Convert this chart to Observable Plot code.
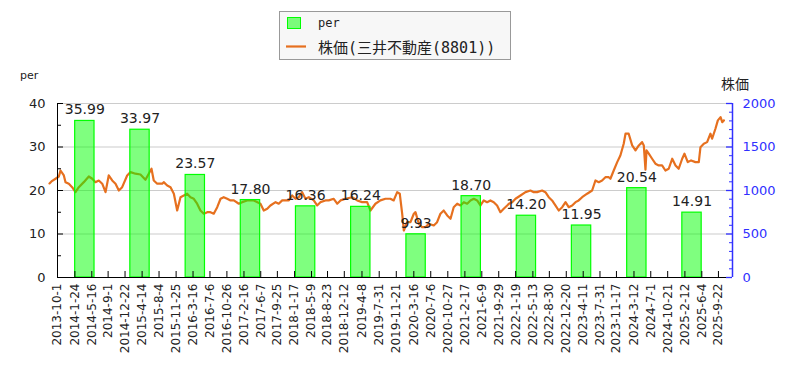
<!DOCTYPE html>
<html><head><meta charset="utf-8">
<script src="https://cdn.jsdelivr.net/npm/d3@7"></script>
<script src="https://cdn.jsdelivr.net/npm/@observablehq/plot@0.6"></script>
<style>
body{margin:0;background:#fff;}
#wrap{position:relative;width:793px;height:372px;overflow:hidden;}
#wrap svg{position:absolute;left:0;top:0;}
</style></head><body>
<div id="wrap"></div>
<script>
// ---- data ----
const tickLabels = ["2013-10-1","2014-1-24","2014-5-16","2014-9-1","2014-12-22","2015-4-14","2015-8-4","2015-11-25","2016-3-16","2016-7-6","2016-10-26","2017-2-16","2017-6-7","2017-9-25","2018-1-17","2018-5-9","2018-8-23","2018-12-12","2019-4-8","2019-7-31","2019-11-21","2020-3-16","2020-7-6","2020-10-27","2021-2-17","2021-6-9","2021-9-29","2022-1-19","2022-5-13","2022-8-30","2022-12-20","2023-4-11","2023-7-31","2023-11-17","2024-3-12","2024-7-1","2024-10-21","2025-2-12","2025-6-4","2025-9-22"];
const xDomain = ["2013-10-1","2025-12-24"];
const perDates = ["2014-3-31","2015-3-31","2016-3-31","2017-3-31","2018-3-31","2019-3-31","2020-3-31","2021-3-31","2022-3-31","2023-3-31","2024-3-31","2025-3-31"];
const perValues = [35.99,33.97,23.57,17.80,16.36,16.24,9.93,18.70,14.20,11.95,20.54,14.91];
const perTicks = [0,10,20,30,40];
const priceTicks = [0,500,1000,1500,2000];
const priceDates = ["2013-8-9","2013-8-22","2013-9-18","2013-10-10","2013-10-21","2013-11-12","2013-11-23","2013-12-15","2014-1-6","2014-1-28","2014-2-19","2014-3-24","2014-4-26","2014-5-19","2014-6-9","2014-7-1","2014-7-24","2014-8-15","2014-9-5","2014-9-28","2014-10-20","2014-11-11","2014-12-3","2015-1-5","2015-1-27","2015-3-1","2015-4-3","2015-5-6","2015-5-28","2015-6-15","2015-6-30","2015-7-23","2015-8-25","2015-9-4","2015-9-27","2015-10-19","2015-11-10","2015-12-2","2015-12-24","2016-1-15","2016-2-6","2016-2-28","2016-3-21","2016-4-12","2016-5-4","2016-5-26","2016-6-18","2016-7-9","2016-7-31","2016-8-23","2016-9-14","2016-10-5","2016-10-28","2016-11-19","2016-12-11","2017-1-13","2017-2-4","2017-3-9","2017-4-22","2017-6-5","2017-6-27","2017-7-20","2017-8-10","2017-9-13","2017-10-4","2017-10-27","2017-12-10","2018-1-1","2018-1-23","2018-2-14","2018-3-8","2018-3-30","2018-4-21","2018-5-24","2018-6-15","2018-7-7","2018-8-9","2018-8-31","2018-10-3","2018-10-26","2018-11-17","2018-12-20","2019-2-2","2019-3-7","2019-4-9","2019-5-12","2019-6-3","2019-7-6","2019-8-8","2019-9-10","2019-10-13","2019-11-4","2019-11-27","2019-12-14","2019-12-30","2020-1-10","2020-2-1","2020-2-23","2020-3-16","2020-3-27","2020-4-18","2020-5-10","2020-6-1","2020-6-23","2020-7-26","2020-8-17","2020-9-8","2020-9-30","2020-10-23","2020-11-14","2020-12-5","2020-12-28","2021-1-19","2021-2-10","2021-3-4","2021-3-26","2021-4-17","2021-5-9","2021-5-31","2021-6-22","2021-7-14","2021-8-5","2021-8-27","2021-9-18","2021-10-10","2021-11-1","2021-11-24","2021-12-5","2021-12-27","2022-1-18","2022-2-20","2022-3-25","2022-4-27","2022-5-19","2022-6-10","2022-7-13","2022-8-4","2022-8-26","2022-9-17","2022-10-9","2022-10-31","2022-11-23","2022-12-15","2023-1-5","2023-1-28","2023-2-19","2023-3-12","2023-4-4","2023-5-7","2023-6-9","2023-7-1","2023-7-23","2023-8-14","2023-9-5","2023-9-27","2023-10-8","2023-10-30","2023-11-22","2023-12-13","2024-1-4","2024-1-16","2024-2-6","2024-2-29","2024-3-22","2024-4-13","2024-5-5","2024-5-16","2024-5-27","2024-6-3","2024-6-18","2024-7-10","2024-8-1","2024-8-23","2024-9-14","2024-10-6","2024-10-28","2024-11-20","2024-12-12","2025-1-2","2025-1-25","2025-2-9","2025-3-3","2025-3-25","2025-4-23","2025-5-15","2025-5-26","2025-6-17","2025-7-9","2025-7-31","2025-8-11","2025-9-2","2025-9-18","2025-10-6","2025-10-17","2025-10-28"];
const priceValues = [1081,1104,1135,1161,1230,1173,1096,1078,1038,981,1038,1096,1161,1135,1096,1115,1078,981,1173,1115,1078,1000,1038,1173,1211,1193,1184,1124,1193,1250,1115,1078,1078,1096,1058,1038,963,770,923,943,963,923,905,848,770,733,751,751,733,808,905,923,905,886,886,848,866,886,886,848,770,790,828,866,848,886,886,943,905,923,981,905,923,886,828,866,886,886,905,848,886,905,923,886,866,866,770,848,886,905,905,886,981,963,733,540,636,636,733,751,618,578,578,618,598,636,733,770,713,675,808,848,828,866,848,886,905,886,828,886,866,886,866,828,751,790,828,848,866,905,943,981,1000,981,981,1000,981,923,886,828,770,808,866,808,828,866,886,923,963,1000,1115,1096,1115,1153,1153,1135,1230,1326,1403,1538,1653,1653,1518,1461,1518,1556,1518,1240,1461,1423,1365,1308,1288,1288,1230,1250,1365,1288,1250,1365,1423,1326,1346,1326,1326,1498,1538,1556,1653,1595,1710,1806,1843,1786,1806];
const legendLabels = ["per","株価(三井不動産(8801))"];
const axisTitles = ["per","株価"];

// ---- helpers ----
const parseD = s => { const [y,m,d] = s.split("-").map(Number); return new Date(Date.UTC(y, m - 1, d)); };
const fmtD = d => `${d.getUTCFullYear()}-${d.getUTCMonth() + 1}-${d.getUTCDate()}`;
const DAY = 864e5;

const tickDates = tickLabels.map(parseD);
const perData = perDates.map((s, i) => ({date: parseD(s), per: perValues[i]}));
const priceData = priceDates.map((s, i) => ({date: parseD(s), price: priceValues[i]}));
const ratio = priceTicks[4] / perTicks[4]; // price units per "per" unit

const W = 793, H = 372, mL = 57, mR = 61, mT = 103, mB = 95;
const innerW = W - mL - mR, innerH = H - mT - mB;
const halfBar = 64 * DAY;
const orange = "#e6701f", blue = "#3030ff", green = "#00ff00";

const minorL = d3.range(5, 40, 10);
const minorR = d3.range(0, 41, 2).filter(v => v % 10 !== 0);

const chart = Plot.plot({
  width: W, height: H,
  marginLeft: mL, marginRight: mR, marginTop: mT, marginBottom: mB,
  style: {fontFamily: "DejaVu Sans, sans-serif", fontSize: "13px", background: "transparent", color: "#222"},
  x: {type: "utc", domain: xDomain.map(parseD)},
  y: {domain: [perTicks[0], perTicks[4]]},
  marks: [
    Plot.ruleY(perTicks.slice(1), {stroke: "#cccccc", strokeWidth: 1.2}),
    Plot.line(priceData, {x: "date", y: d => d.price / ratio, stroke: orange, strokeWidth: 2.2}),
    Plot.rectY(perData, {x1: d => new Date(+d.date - halfBar), x2: d => new Date(+d.date + halfBar), y: "per", fill: green, fillOpacity: 0.5, stroke: green, strokeWidth: 1.2}),
    Plot.text(perData, {x: "date", y: "per", text: d => d.per.toFixed(2), dy: -11, fontSize: 14, fill: "#222"}),
    // axis lines
    Plot.ruleX([parseD(xDomain[0])], {stroke: "#000"}),
    Plot.ruleX([parseD(xDomain[1])], {stroke: blue, strokeWidth: 1.5}),
    Plot.ruleY([0], {stroke: "#000"}),
    // inward tick marks
    Plot.tickY(perTicks, {y: d => d, insetRight: innerW - 6, stroke: "#000"}),
    Plot.tickY(minorL, {y: d => d, insetRight: innerW - 4, stroke: "#000"}),
    Plot.tickY(perTicks, {y: d => d, insetLeft: innerW - 6, stroke: blue, strokeWidth: 1.3}),
    Plot.tickY(minorR, {y: d => d, insetLeft: innerW - 3, stroke: blue}),
    Plot.tickX(tickDates, {x: d => d, insetTop: innerH - 6, stroke: "#000"}),
    // axes labels
    Plot.axisY({anchor: "left", ticks: perTicks, tickSize: 0, tickPadding: 12, label: null, fontSize: 13}),
    Plot.axisY({anchor: "right", ticks: perTicks, tickSize: 0, tickPadding: 10, label: null, fontSize: 13, color: blue, tickFormat: d => String(d * ratio)}),
    Plot.axisX({ticks: tickDates, tickFormat: fmtD, tickRotate: -90, tickSize: 0, tickPadding: 6, label: null, fontSize: 12})
  ]
});
const wrap = document.getElementById("wrap");
wrap.appendChild(chart);

// ---- overlay: axis titles + legend ----
const ov = d3.select(wrap).append("svg").attr("width", W).attr("height", H)
  .style("font-family", "DejaVu Sans, sans-serif");
ov.append("text").attr("x", 20).attr("y", 79).attr("font-size", 11).attr("fill", "#222").text(axisTitles[0]);
ov.append("text").attr("x", 735).attr("y", 89).attr("text-anchor", "middle").attr("font-size", 14)
  .attr("font-family", "Noto Sans CJK JP").attr("fill", "#222").text(axisTitles[1]);
const lg = ov.append("g");
lg.append("rect").attr("x", 279.5).attr("y", 11.5).attr("width", 231).attr("height", 48)
  .attr("fill", "#f7f7f7").attr("stroke", "#999");
lg.append("rect").attr("x", 287.5).attr("y", 17.5).attr("width", 13).attr("height", 11)
  .attr("fill", green).attr("fill-opacity", 0.5).attr("stroke", green);
lg.append("text").attr("x", 318).attr("y", 27).attr("font-size", 12)
  .attr("font-family", "DejaVu Sans Mono, monospace").attr("fill", "#222").text(legendLabels[0]);
lg.append("line").attr("x1", 286).attr("x2", 306).attr("y1", 46.5).attr("y2", 46.5)
  .attr("stroke", orange).attr("stroke-width", 2.2);
lg.append("text").attr("x", 318).attr("y", 53).attr("font-size", 15)
  .attr("font-family", "DejaVu Sans Mono, Noto Sans CJK JP, monospace").attr("fill", "#222").text(legendLabels[1]);
</script>
</body></html>
